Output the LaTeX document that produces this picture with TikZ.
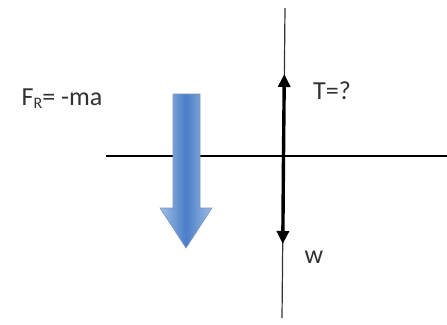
\documentclass[tikz,border=0pt]{standalone}
\usepackage{fontspec}
\setmainfont{Carlito}
\usetikzlibrary{arrows.meta,positioning}
\definecolor{fbdBlue}{RGB}{74,126,200}
\definecolor{fbdLight}{RGB}{160,190,230}
\definecolor{fbdEdge}{RGB}{120,150,190}
\definecolor{fbdGray}{RGB}{50,50,50}

\begin{document}
\begin{tikzpicture}[x=1pt, y=-1pt,
  label/.style={font=\fontsize{26}{30}\selectfont, text=fbdGray, inner sep=0pt},
  axis/.style={line width=1.4pt, draw=black},
  force/.style={-{Triangle[length=13pt, width=12pt]}, line width=3.4pt, draw=black}
]
\useasboundingbox (0,0) rectangle (447,324);

% axes
\coordinate (o) at (283.5,156);
\coordinate (top) at (285,8);
\coordinate (bot) at (282,318);
\coordinate (left) at (106,156);
\coordinate (right) at (447,156);
\draw[axis, draw=fbdGray, line width=1.2pt] (top) -- (bot);
\draw[axis] (left) -- (right);

% tension and weight
\coordinate (tup) at (284.3,74);
\coordinate (wdn) at (282.8,244);
\draw[force] (o) -- (tup);
\draw[force] (o) -- (wdn);
\node[label] (tlab) at (332,91) {T=?};
\node[label] (wlab) at (314,257) {w};

% resultant force
\shade[left color=fbdLight, right color=fbdLight, middle color=fbdBlue, draw=fbdEdge, line width=0.6pt]
  (173,94) -- (200,94) -- (200,208) -- (212,208) -- (186,248) -- (160,208) -- (173,208) -- cycle;
\node[label] (flab) at (62,99) {F\raisebox{-3pt}{\fontsize{16}{18}\selectfont R}= -ma};
\end{tikzpicture}
\end{document}
